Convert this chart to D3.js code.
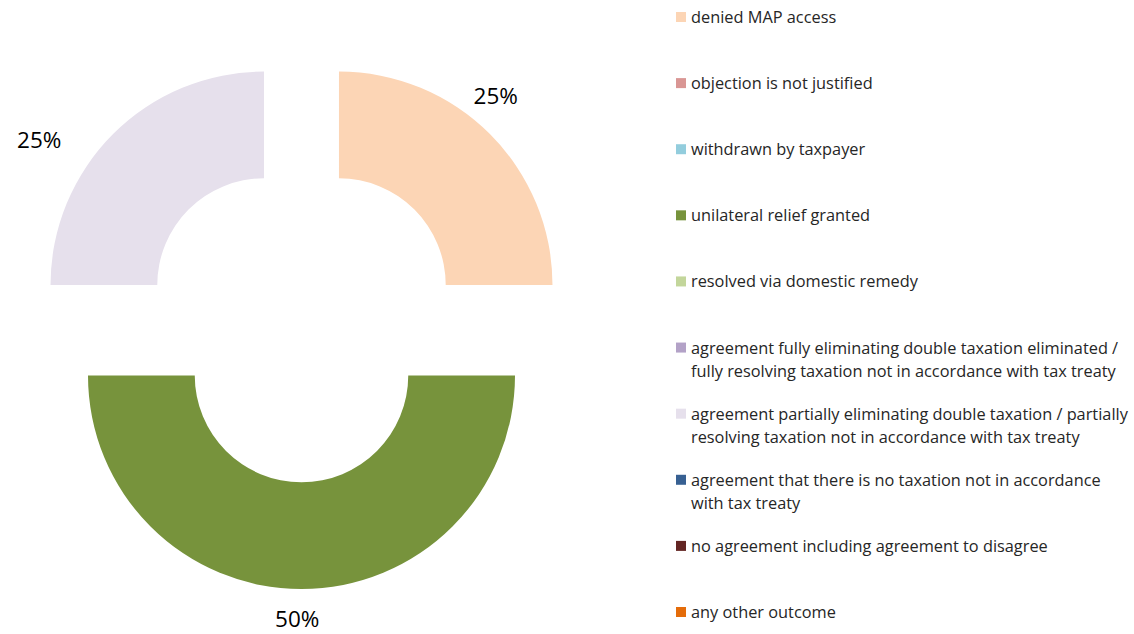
<!DOCTYPE html>
<html><head><meta charset="utf-8">
<script src="https://cdn.jsdelivr.net/npm/d3@7"></script>
<style>
html,body{margin:0;padding:0;background:#fff;}
svg{display:block;font-family:"Open Sans", Lato, sans-serif;}
</style></head>
<body>
<svg id="chart" width="1134" height="634"></svg>
<script>
const categories = [
  "denied MAP access",
  "objection is not justified",
  "withdrawn by taxpayer",
  "unilateral relief granted",
  "resolved via domestic remedy",
  "agreement fully eliminating double taxation eliminated / fully resolving taxation not in accordance with tax treaty",
  "agreement partially eliminating double taxation / partially resolving taxation not in accordance with tax treaty",
  "agreement that there is no taxation not in accordance with tax treaty",
  "no agreement including agreement to disagree",
  "any other outcome"
];
const values = [25, 0, 0, 50, 0, 0, 25, 0, 0, 0];
const legendLines = [
  ["denied MAP access"],
  ["objection is not justified"],
  ["withdrawn by taxpayer"],
  ["unilateral relief granted"],
  ["resolved via domestic remedy"],
  ["agreement fully eliminating double taxation eliminated /", "fully resolving taxation not in accordance with tax treaty"],
  ["agreement partially eliminating double taxation / partially", "resolving taxation not in accordance with tax treaty"],
  ["agreement that there is no taxation not in accordance", "with tax treaty"],
  ["no agreement including agreement to disagree"],
  ["any other outcome"]
];
const colors = ["#FCD5B5","#D99694","#93CDDD","#77933C","#C3D69B","#B3A2C7","#E6E0EC","#376092","#632523","#E46C0A"];

// layout
const cx = 301.5, cy = 322.5, outerR = 213.5, innerR = 106.75, explode = 53;
// label polar placement (angle in degrees clockwise from top, radius from exploded slice centre)
const labelPolar = {0: [39.6, 246], 3: [181, 243], 6: [303, 268]};

const svg = d3.select("#chart");
const data = categories.map((c, i) => ({cat: c, value: values[i], color: colors[i], idx: i}));
const pie = d3.pie().value(d => d.value).sort(null).startAngle(0).endAngle(2 * Math.PI);
const arc = d3.arc().innerRadius(innerR).outerRadius(outerR);
const arcs = pie(data).filter(d => d.value > 0);

const g = svg.append("g").attr("transform", `translate(${cx},${cy})`);
const slices = g.selectAll("g.slice").data(arcs).enter().append("g")
  .attr("class", "slice")
  .attr("transform", d => {
    const a = (d.startAngle + d.endAngle) / 2;
    return `translate(${explode * Math.sin(a)},${-explode * Math.cos(a)})`;
  });
slices.append("path").attr("d", arc).attr("fill", d => d.data.color);
slices.append("text")
  .attr("x", d => { const p = labelPolar[d.data.idx]; return p[1] * Math.sin(p[0] * Math.PI / 180); })
  .attr("y", d => { const p = labelPolar[d.data.idx]; return -p[1] * Math.cos(p[0] * Math.PI / 180); })
  .attr("text-anchor", "middle").attr("dominant-baseline", "central")
  .attr("font-size", 22.5).attr("fill", "#000")
  .text(d => d3.format(".0%")(d.value / d3.sum(values)));

// legend
const legY = d3.scalePoint().domain(d3.range(categories.length)).range([17, 612]);
const leg = svg.append("g");
const items = leg.selectAll("g.item").data(data).enter().append("g")
  .attr("class", "item").attr("transform", d => `translate(676,${legY(d.idx)})`);
items.append("rect").attr("x", 0).attr("y", -5).attr("width", 10).attr("height", 10).attr("fill", d => d.color);
const texts = [];
items.each(function(d) {
  const t = d3.select(this).append("text").attr("x", 15).attr("font-size", 16).attr("fill", "#262626");
  legendLines[d.idx].forEach((ln, k) => {
    t.append("tspan").attr("x", 15).attr("y", k * 23).attr("dominant-baseline", "central").text(ln);
  });
  texts.push(t);
});
// fit legend font so the widest line spans the same width as the reference (~437px)
let maxW = 0;
leg.selectAll("tspan").each(function() { maxW = Math.max(maxW, this.getComputedTextLength()); });
const fs = 16 * 437 / maxW;
texts.forEach(t => t.attr("font-size", fs));
</script>
</body></html>
